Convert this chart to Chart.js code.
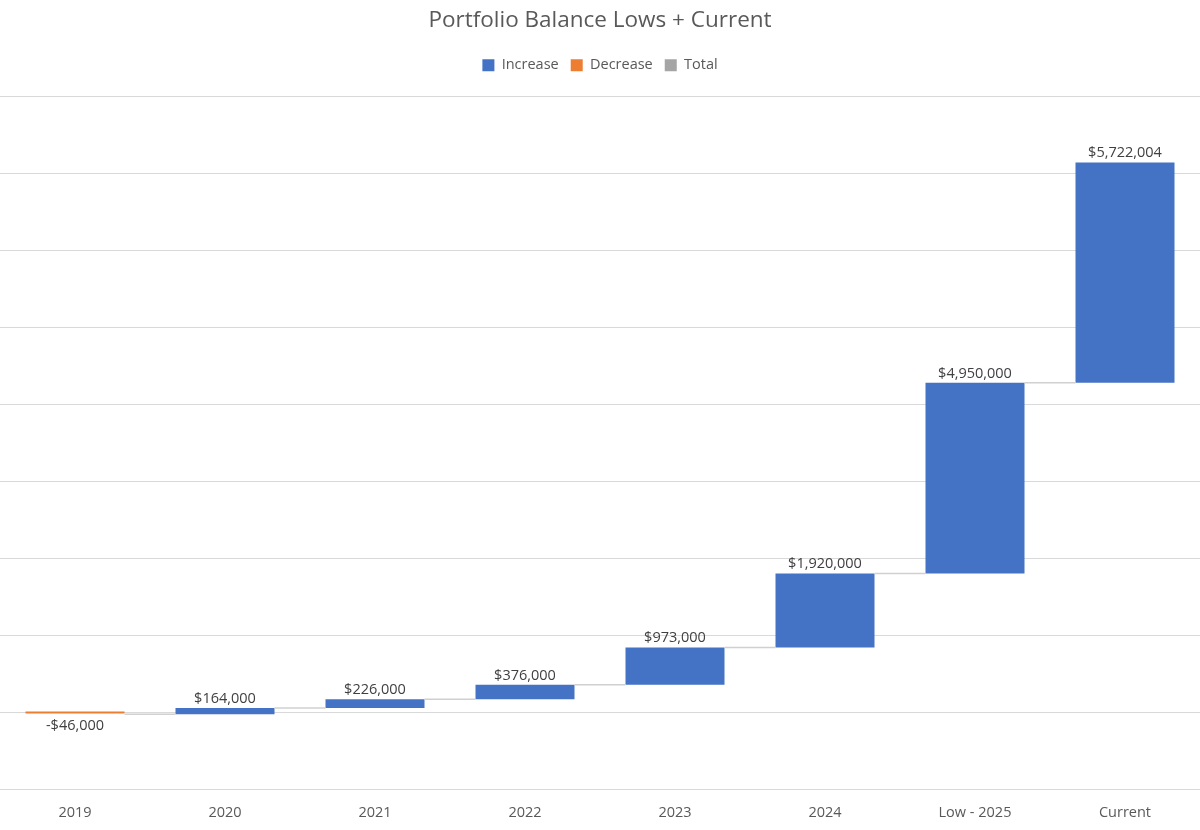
<!DOCTYPE html>
<html>
<head>
<meta charset="utf-8">
<script src="https://cdn.jsdelivr.net/npm/chart.js@4"></script>
<style>
  html, body { margin: 0; padding: 0; background: #ffffff; }
  #wrap { width: 1200px; height: 830px; position: relative; }
</style>
</head>
<body>
<div id="wrap"><canvas id="c" width="1200" height="830"></canvas></div>
<script>
const categories = ['2019', '2020', '2021', '2022', '2023', '2024', 'Low - 2025', 'Current'];
const changes = [-46000, 164000, 226000, 376000, 973000, 1920000, 4950000, 5722004];
const legendNames = ['Increase', 'Decrease', 'Total'];
const legendColors = ['#4472C4', '#ED7D31', '#A5A5A5'];
const yMin = -2000000;
const yMax = 16000000;
const yStep = 2000000;

// floating ranges built from the running total
const ranges = [];
let running = 0;
for (const v of changes) {
  ranges.push([running, running + v]);
  running += v;
}
const barColors = changes.map(v => v < 0 ? legendColors[1] : legendColors[0]);

function fmt(v) {
  const s = '$' + Math.abs(v).toLocaleString('en-US');
  return v < 0 ? '-' + s : s;
}

const FONT = "'Open Sans', 'Noto Sans', sans-serif";

const legendGap = {
  id: 'legendGap',
  beforeInit(chart) {
    const lg = chart.legend;
    const orig = lg.fit;
    lg.fit = function () {
      orig.call(this);
      this.height += 14;
    };
  }
};

const waterfallExtras = {
  id: 'waterfallExtras',
  afterDatasetsDraw(chart) {
    const ctx = chart.ctx;
    const meta = chart.getDatasetMeta(0);
    const y = chart.scales.y;
    ctx.save();
    // connectors
    ctx.strokeStyle = '#D0D0D0';
    ctx.lineWidth = 1.5;
    for (let i = 0; i < meta.data.length - 1; i++) {
      const a = meta.data[i], b = meta.data[i + 1];
      const yy = y.getPixelForValue(ranges[i][1]);
      ctx.beginPath();
      ctx.moveTo(a.x + a.width / 2, yy);
      ctx.lineTo(b.x - b.width / 2, yy);
      ctx.stroke();
    }
    // labels
    ctx.font = '14.5px ' + FONT;
    ctx.fillStyle = '#404040';
    ctx.textAlign = 'center';
    meta.data.forEach((bar, i) => {
      const v = changes[i];
      const top = y.getPixelForValue(Math.max(ranges[i][0], ranges[i][1]));
      const bottom = y.getPixelForValue(Math.min(ranges[i][0], ranges[i][1]));
      if (v >= 0) {
        ctx.textBaseline = 'bottom';
        ctx.fillText(fmt(v), bar.x, top - 2);
      } else {
        ctx.textBaseline = 'top';
        ctx.fillText(fmt(v), bar.x, bottom + 4);
      }
    });
    ctx.restore();
  }
};

new Chart(document.getElementById('c'), {
  type: 'bar',
  data: {
    labels: categories,
    datasets: [{
      label: 'Waterfall',
      data: ranges,
      backgroundColor: barColors,
      borderWidth: 0,
      borderSkipped: false,
      minBarLength: 2,
      categoryPercentage: 1.0,
      barPercentage: 0.66
    }]
  },
  options: {
    responsive: false,
    animation: false,
    layout: { padding: { left: 0, right: 0, top: 0, bottom: -7 } },
    plugins: {
      title: {
        display: true,
        text: 'Portfolio Balance Lows + Current',
        color: '#595959',
        font: { family: FONT, size: 22.5, weight: 'normal' },
        padding: { top: 7, bottom: 12 }
      },
      legend: {
        display: true,
        position: 'top',
        labels: {
          color: '#595959',
          font: { family: FONT, size: 14.5 },
          boxWidth: 12,
          boxHeight: 12,
          padding: 12,
          generateLabels: () => legendNames.map((n, i) => ({
            text: n,
            fillStyle: legendColors[i],
            strokeStyle: legendColors[i],
            lineWidth: 0,
            hidden: false,
            index: i,
            fontColor: '#595959'
          }))
        },
        onClick: () => {}
      },
      tooltip: { enabled: false }
    },
    scales: {
      x: {
        grid: { display: false, drawTicks: false },
        border: { display: true, color: '#D9D9D9', width: 1 },
        ticks: {
          color: '#595959',
          font: { family: FONT, size: 14.5 },
          padding: 15
        }
      },
      y: {
        min: yMin,
        max: yMax,
        ticks: { display: false, stepSize: yStep },
        grid: { color: '#D9D9D9', lineWidth: 1, drawTicks: false },
        border: { display: false }
      }
    }
  },
  plugins: [legendGap, waterfallExtras]
});
</script>
</body>
</html>
